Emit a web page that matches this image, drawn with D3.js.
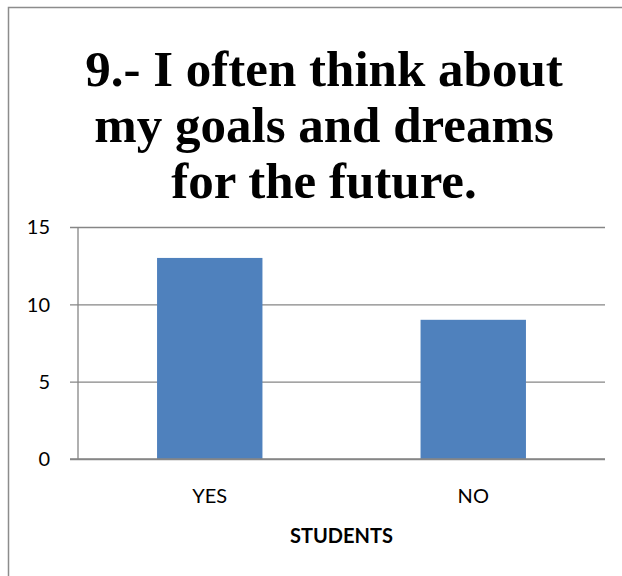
<!DOCTYPE html>
<html>
<head>
<meta charset="utf-8">
<script src="https://cdn.jsdelivr.net/npm/d3@7"></script>
<style>
  html, body { margin: 0; padding: 0; background: #fff; }
  svg { display: block; }
</style>
</head>
<body>
<svg id="chart" width="622" height="576"></svg>
<script>
// Survey answers for question 9
const categories = ["YES", "NO"];
const students = [13, 9];
const yTicks = [0, 5, 10, 15];
const titleLines = ["9.- I often think about", "my goals and dreams", "for the future."];
const axisTitle = "STUDENTS";

const svg = d3.select("#chart");
const W = 622, H = 576;
const plot = { left: 78, right: 605, top: 227, bottom: 459 };
const labelFont = "Lato, 'Open Sans', sans-serif";

// chart area frame (continues past the right and bottom edges)
svg.append("rect")
  .attr("x", 8.5).attr("y", 7.5)
  .attr("width", W + 20).attr("height", H + 20)
  .attr("fill", "#fff")
  .attr("stroke", "#8c8c8c")
  .attr("stroke-width", 1.5);

// title, three centred serif lines
const titleBaselines = [86, 142, 198];
const title = svg.append("text")
  .attr("text-anchor", "middle")
  .attr("font-family", "'Liberation Serif', 'Times New Roman', serif")
  .attr("font-weight", "bold")
  .attr("font-size", 51)
  .attr("fill", "#000");
titleLines.forEach((line, i) => {
  title.append("tspan")
    .attr("x", 324)
    .attr("y", titleBaselines[i])
    .text(line);
});

const x = d3.scaleBand()
  .domain(categories)
  .range([plot.left, plot.right])
  .paddingInner(0.6)
  .paddingOuter(0.3);

const y = d3.scaleLinear()
  .domain([0, 15])
  .range([plot.bottom, plot.top]);

// horizontal gridlines with outward tick marks
const yAxis = d3.axisLeft(y)
  .tickValues(yTicks)
  .tickSize(-(plot.right - plot.left))
  .tickFormat("");

const gGrid = svg.append("g")
  .attr("transform", `translate(${plot.left},0)`)
  .call(yAxis);
gGrid.select(".domain").remove();
gGrid.selectAll(".tick line")
  .attr("x1", -8)
  .attr("stroke", "#868686")
  .attr("stroke-width", 1.3);

// vertical axis line
svg.append("line")
  .attr("x1", plot.left).attr("x2", plot.left)
  .attr("y1", y(15)).attr("y2", y(0))
  .attr("stroke", "#868686")
  .attr("stroke-width", 1.3);

// y tick labels
svg.append("g")
  .selectAll("text")
  .data(yTicks)
  .join("text")
  .attr("x", 50)
  .attr("y", d => y(d))
  .attr("dy", "0.36em")
  .attr("text-anchor", "end")
  .attr("font-family", labelFont)
  .attr("font-size", 20)
  .attr("fill", "#000")
  .text(d => d);

// bars
svg.append("g")
  .selectAll("rect")
  .data(students)
  .join("rect")
  .attr("x", (d, i) => x(categories[i]))
  .attr("width", x.bandwidth())
  .attr("y", d => y(d))
  .attr("height", d => y(0) - y(d))
  .attr("fill", "#4f81bd");

// redraw baseline on top of bars
svg.append("line")
  .attr("x1", plot.left - 8).attr("x2", plot.right)
  .attr("y1", y(0)).attr("y2", y(0))
  .attr("stroke", "#868686")
  .attr("stroke-width", 1.3);

// category labels
svg.append("g")
  .selectAll("text")
  .data(categories)
  .join("text")
  .attr("x", d => x(d) + x.bandwidth() / 2)
  .attr("y", 503)
  .attr("text-anchor", "middle")
  .attr("font-family", labelFont)
  .attr("font-size", 20)
  .attr("fill", "#000")
  .text(d => d);

// axis title
svg.append("text")
  .attr("x", (plot.left + plot.right) / 2)
  .attr("y", 543)
  .attr("text-anchor", "middle")
  .attr("font-family", labelFont)
  .attr("font-weight", "bold")
  .attr("font-size", 20)
  .attr("fill", "#000")
  .text(axisTitle);
</script>
</body>
</html>
